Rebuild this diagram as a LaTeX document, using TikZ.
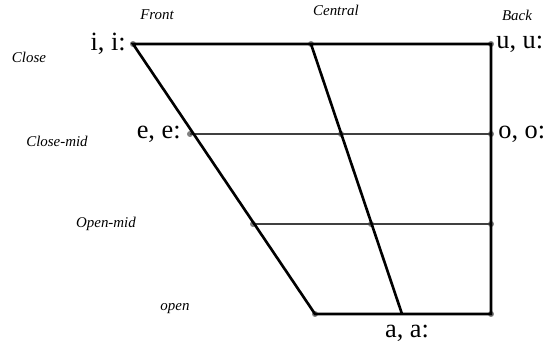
\documentclass[tikz,border=0pt]{standalone}
\usepackage{fontspec}
\setmainfont{Liberation Serif}
\begin{document}
\begin{tikzpicture}[x=0.02cm,y=-0.02cm]
\tikzset{vowel/.style={inner sep=0pt,font=\fontsize{15}{17}\selectfont},
  height/.style={inner sep=0pt,font=\fontsize{8.5}{10}\selectfont\itshape},
  dot/.style={gray,fill=gray},
  frame/.style={line width=1.5pt},
  level/.style={line width=0.6pt,black!75}}
\useasboundingbox (0,0) rectangle (548,349);
\def\yClose{44};
\def\yCmid{134};
\def\yOmid{224};
\def\yOpen{314};
\def\xBack{491};
% corners and crossings
\coordinate (FC) at (133,\yClose);
\coordinate (CC) at (311,\yClose);
\coordinate (BC) at (\xBack,\yClose);
\coordinate (FCM) at (190,\yCmid);
\coordinate (CCM) at (341,\yCmid);
\coordinate (BCM) at (\xBack,\yCmid);
\coordinate (FOM) at (253,\yOmid);
\coordinate (COM) at (371,\yOmid);
\coordinate (BOM) at (\xBack,\yOmid);
\coordinate (FO) at (315,\yOpen);
\coordinate (CO) at (402,\yOpen);
\coordinate (BO) at (\xBack,\yOpen);
\foreach \p in {FC,CC,BC,FCM,CCM,BCM,FOM,COM,BOM,FO,BO}
  \fill[dot] (\p) circle (1.7pt);
\draw[level] (FCM) -- (BCM);
\draw[level] (FOM) -- (BOM);
\draw[frame] (FC) -- (BC) -- (BO) -- (FO) -- cycle;
\draw[frame] (CC) -- (CO);
% column and row names
\node[height] (front) at (157,15) {Front};
\node[height] (central) at (336,10) {Central};
\node[height] (back) at (517,15) {Back};
\node[height] (close) at (29,57) {Close};
\node[height] (closemid) at (57,141) {Close-mid};
\node[height] (openmid) at (106,224) {Open-mid};
\node[height] (open) at (175,309) {open};
% vowels
\node[vowel,anchor=east] (i) at (126,44) {i, i:};
\node[vowel,anchor=east] (e) at (181,134) {e, e:};
\node[vowel,anchor=west] (u) at (496,44) {u, u:};
\node[vowel,anchor=west] (o) at (498,134) {o, o:};
\node[vowel] (a) at (407,333) {a, a:};
\end{tikzpicture}
\end{document}
